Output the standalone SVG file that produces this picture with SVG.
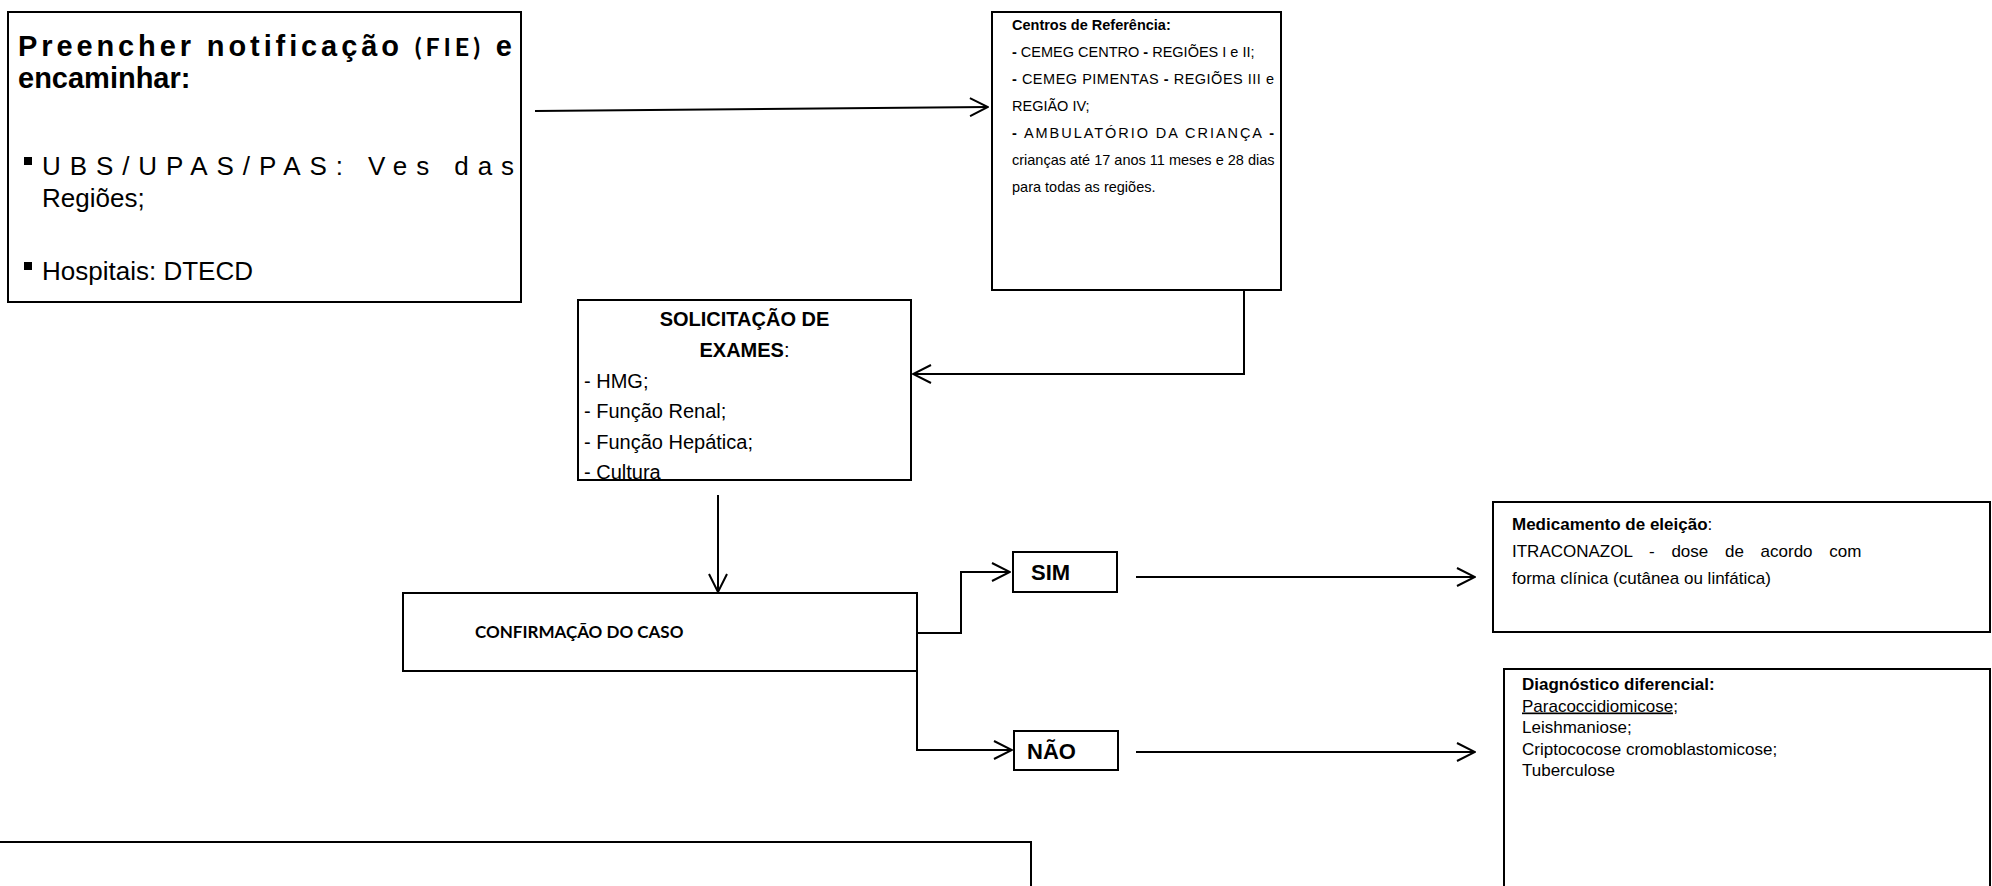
<svg xmlns="http://www.w3.org/2000/svg" width="1992" height="886" viewBox="0 0 1992 886">
<style>
.box{fill:#fff;stroke:#000;stroke-width:2}
.ln{fill:none;stroke:#000;stroke-width:2}
text{font-family:"Liberation Sans",Arial,sans-serif;fill:#000}
.b{font-weight:bold}
.t1{font-size:29px}
.t1r{font-size:26px}
.tc{font-size:14.5px}
.t2{font-size:20px}
.t3{font-size:17px}
.cal{font-family:Lato,"Liberation Sans",sans-serif;font-weight:bold}
</style>
<defs>
<marker id="arr" viewBox="0 0 20 20" refX="19" refY="10" markerWidth="20" markerHeight="20" markerUnits="userSpaceOnUse" orient="auto">
<path d="M1,1 L19,10 L1,19" fill="none" stroke="#000" stroke-width="2"/>
</marker>
</defs>
<rect width="1992" height="886" fill="#fff"/>

<g id="connectors">
<line class="ln" x1="535" y1="111" x2="988" y2="107" marker-end="url(#arr)"/>
<polyline class="ln" points="1244,290 1244,374 913,374" marker-end="url(#arr)"/>
<line class="ln" x1="718" y1="495" x2="718" y2="592" marker-end="url(#arr)"/>
<polyline class="ln" points="912,633 961,633 961,572 1010,572" marker-end="url(#arr)"/>
<polyline class="ln" points="917,671 917,750 1012,750" marker-end="url(#arr)"/>
<line class="ln" x1="1136" y1="577" x2="1475" y2="577" marker-end="url(#arr)"/>
<line class="ln" x1="1136" y1="752" x2="1475" y2="752" marker-end="url(#arr)"/>
</g>

<g id="notificacao">
<rect class="box" x="8" y="12" width="513" height="290"/>
<text class="t1 b" x="18" y="56" textLength="494" lengthAdjust="spacing">Preencher notificação <tspan class="cal" font-size="25">(FIE)</tspan> e</text>
<text class="t1 b" x="18" y="88">encaminhar:</text>
<rect x="24" y="157" width="8" height="8"/>
<text class="t1r" x="42" y="175" textLength="472" lengthAdjust="spacing">UBS/UPAS/PAS: Ves das</text>
<text class="t1r" x="42" y="207">Regiões;</text>
<rect x="24" y="262" width="8" height="8"/>
<text class="t1r" x="42" y="280">Hospitais: DTECD</text>
</g>

<g id="centros">
<rect class="box" x="992" y="12" width="289" height="278"/>
<text class="tc b" x="1012" y="30">Centros de Referência:</text>
<text class="tc" x="1012" y="57"><tspan class="b">-</tspan> CEMEG CENTRO <tspan class="b">-</tspan> REGIÕES I e II;</text>
<text class="tc" x="1012" y="84" textLength="262" lengthAdjust="spacing"><tspan class="b">-</tspan> CEMEG PIMENTAS <tspan class="b">-</tspan> REGIÕES III e</text>
<text class="tc" x="1012" y="111">REGIÃO IV;</text>
<text class="tc" x="1012" y="138" textLength="262" lengthAdjust="spacing"><tspan class="b">-</tspan> AMBULATÓRIO DA CRIANÇA <tspan class="b">-</tspan></text>
<text class="tc" x="1012" y="165">crianças até 17 anos 11 meses e 28 dias</text>
<text class="tc" x="1012" y="192">para todas as regiões.</text>
</g>

<g id="exames">
<rect class="box" x="578" y="300" width="333" height="180"/>
<text class="t2 b" x="744.5" y="326" text-anchor="middle">SOLICITAÇÃO DE</text>
<text class="t2" x="744.5" y="357" text-anchor="middle"><tspan class="b">EXAMES</tspan>:</text>
<text class="t2" x="584" y="388">- HMG;</text>
<text class="t2" x="584" y="418">- Função Renal;</text>
<text class="t2" x="584" y="449">- Função Hepática;</text>
<text class="t2" x="584" y="479">- Cultura</text>
</g>

<g id="confirmacao">
<rect class="box" x="403" y="593" width="514" height="78"/>
<text class="cal" font-size="17" x="475" y="638">CONFIRMAÇÃO DO CASO</text>
</g>

<g id="sim">
<rect class="box" x="1013" y="552" width="104" height="40"/>
<text class="b" font-size="22" x="1031" y="580">SIM</text>
</g>

<g id="nao">
<rect class="box" x="1014" y="731" width="104" height="39"/>
<text class="b" font-size="22" x="1027" y="759">NÃO</text>
</g>

<g id="medicamento">
<rect class="box" x="1493" y="502" width="497" height="130"/>
<text class="t3" x="1512" y="530"><tspan class="b">Medicamento de eleição</tspan>:</text>
<text class="t3" x="1512" y="557" word-spacing="12">ITRACONAZOL  - dose de acordo com</text>
<text class="t3" x="1512" y="584">forma clínica (cutânea ou linfática)</text>
</g>

<g id="diagnostico">
<rect class="box" x="1504" y="669" width="486" height="240"/>
<text class="t3 b" x="1522" y="690">Diagnóstico diferencial:</text>
<text class="t3" x="1522" y="711.5" text-decoration="underline">Paracoccidiomicose;</text>
<text class="t3" x="1522" y="733">Leishmaniose;</text>
<text class="t3" x="1522" y="754.5">Criptococose cromoblastomicose;</text>
<text class="t3" x="1522" y="776">Tuberculose</text>
</g>

<g id="rodape">
<rect class="box" x="-4" y="842" width="1035" height="60"/>
</g>
</svg>
